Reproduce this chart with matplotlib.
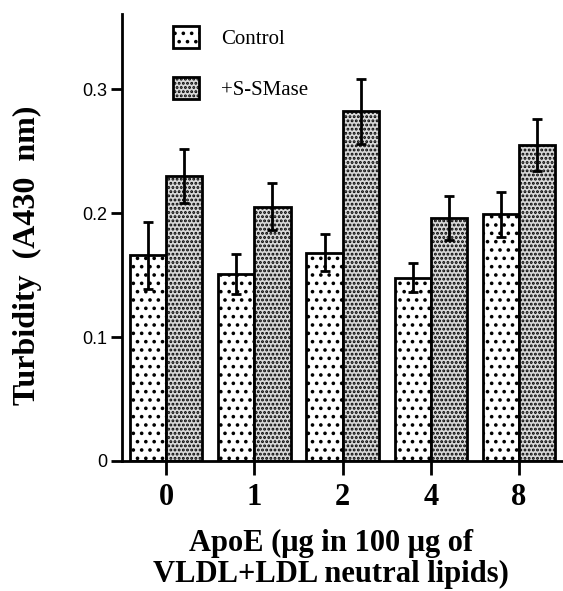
import matplotlib
matplotlib.use("Agg")
import matplotlib.pyplot as plt
import matplotlib.patches as mpatches
import numpy as np

# values
doses = ["0", "1", "2", "4", "8"]
control = [0.166, 0.151, 0.168, 0.148, 0.199]
control_err = [0.027, 0.016, 0.015, 0.012, 0.018]
smase = [0.230, 0.205, 0.282, 0.196, 0.255]
smase_err = [0.022, 0.019, 0.026, 0.018, 0.021]

serif = ["Liberation Serif", "DejaVu Serif"]
plt.rcParams["hatch.linewidth"] = 1.4

ctrl_style = dict(facecolor="white", edgecolor="black", linewidth=2, hatch="..")
smase_style = dict(facecolor="#d8d8d8", edgecolor="black", linewidth=2, hatch="....")

fig = plt.figure(figsize=(5.63, 5.91), dpi=100)
ax = fig.add_axes([0.217, 0.22, 0.783, 0.756])

x = np.arange(len(doses))
w = 0.41
ax.bar(x - w / 2, control, w, zorder=2, **ctrl_style)
ax.bar(x + w / 2, smase, w, zorder=2, **smase_style)
ax.errorbar(x - w / 2, control, yerr=control_err, fmt="none", ecolor="black",
            elinewidth=2, capsize=3.5, capthick=2, zorder=3)
ax.errorbar(x + w / 2, smase, yerr=smase_err, fmt="none", ecolor="black",
            elinewidth=2, capsize=3.5, capthick=2, zorder=3)

ax.set_xlim(-0.5, 4.5)
ax.set_ylim(0, 0.3605)
ax.set_yticks([0, 0.1, 0.2, 0.3])
ax.set_yticklabels(["0", "0.1", "0.2", "0.3"], fontsize=13,
                   family=["Liberation Sans", "DejaVu Sans"])
ax.set_xticks(x)
ax.set_xticklabels(doses, fontsize=22, fontweight="bold", family=serif)
ax.tick_params(axis="x", length=10, width=2, pad=6)
ax.tick_params(axis="y", length=8, width=2, pad=3)

for s in ["top", "right"]:
    ax.spines[s].set_visible(False)
for s in ["left", "bottom"]:
    ax.spines[s].set_linewidth(2)

ax.set_ylabel("Turbidity  (A430  nm)", fontsize=23, fontweight="bold",
              family=serif, va="center")
ax.yaxis.set_label_coords(-0.215, 0.46)
ax.set_xlabel("ApoE (\u03bcg in 100 \u03bcg of\nVLDL+LDL neutral lipids)",
              fontsize=22, fontweight="bold", family=serif, linespacing=1.12)
ax.xaxis.set_label_coords(0.474, -0.2875)
ax.xaxis.label.set_va("bottom")

handles = [mpatches.Patch(**ctrl_style), mpatches.Patch(**smase_style)]
ax.legend(handles, ["Control", "+S-SMase"], loc="upper left",
          bbox_to_anchor=(0.116, 0.973), frameon=False,
          prop={"family": serif, "size": 15}, borderpad=0, borderaxespad=0,
          handlelength=1.25, handleheight=1.25, labelspacing=1.35,
          handletextpad=1.05)

fig.savefig("out.png", dpi=100)
